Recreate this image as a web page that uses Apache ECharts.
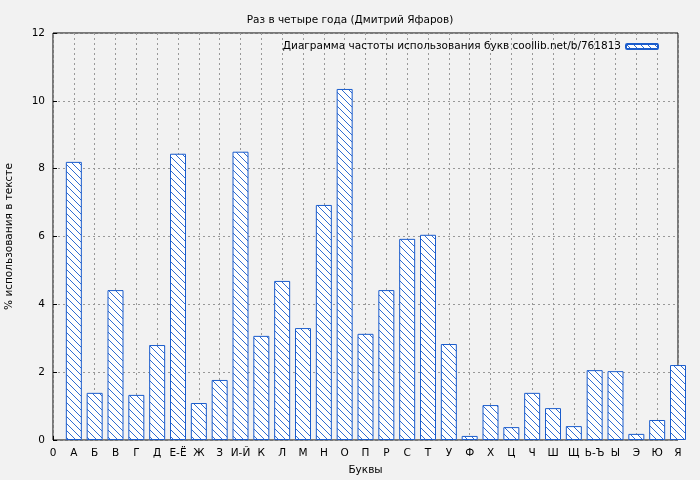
<!DOCTYPE html>
<html><head><meta charset="utf-8">
<script src="https://cdn.jsdelivr.net/npm/echarts@6/dist/echarts.min.js"></script>
<style>html,body{margin:0;background:#f2f2f2}#c{width:700px;height:480px}</style>
</head><body><div id="c"></div>
<script>
const labels = ['0','А','Б','В','Г','Д','Е-Ё','Ж','З','И-Й','К','Л','М','Н','О','П','Р','С','Т','У','Ф','Х','Ц','Ч','Ш','Щ','Ь-Ъ','Ы','Э','Ю','Я'];
const values = [8.2,1.39,4.42,1.33,2.8,8.44,1.09,1.77,8.5,3.07,4.69,3.3,6.93,10.35,3.13,4.42,5.93,6.05,2.83,0.12,1.03,0.38,1.39,0.94,0.41,2.06,2.03,0.18,0.59,2.21];

const pat = document.createElement('canvas');
pat.width = 7; pat.height = 7;
const g = pat.getContext('2d');
g.fillStyle = '#ffffff'; g.fillRect(0,0,7,7);
g.strokeStyle = '#1a5ccc'; g.lineWidth = 0.9;
g.beginPath();
g.moveTo(-1,-1); g.lineTo(8,8);
g.moveTo(-1,6); g.lineTo(1,8);
g.moveTo(6,-1); g.lineTo(8,1);
g.stroke();

const chart = echarts.init(document.getElementById('c'));
const font = 'DejaVu Sans';
chart.setOption({
  backgroundColor: '#f2f2f2',
  animation: false,
  title: { text: 'Раз в четыре года (Дмитрий Яфаров)', left: 'center', top: 10,
    textStyle: { fontSize: 10.5, fontWeight: 'normal', color: '#000', fontFamily: font } },
  legend: { right: 36, top: 36, align: 'right', itemWidth: 32, itemHeight: 5, itemGap: 0,
    textStyle: { fontSize: 10.5, color: '#000', fontFamily: font },
    data: ['Диаграмма частоты использования букв coollib.net/b/761813'] },
  grid: { left: 53, right: 22, top: 33, bottom: 40, containLabel: false, outerBoundsMode: 'none',
    show: true, borderColor: '#000', borderWidth: 1, backgroundColor: '#f2f2f2' },
  xAxis: { type: 'value', min: 0, max: 30, interval: 1,
    name: 'Буквы', nameLocation: 'middle', nameGap: 25,
    nameTextStyle: { fontSize: 10.5, color: '#000', fontFamily: font },
    axisLine: { show: false },
    axisTick: { inside: true, length: 4, lineStyle: { color: '#000' } },
    axisLabel: { fontSize: 10.5, color: '#000', fontFamily: font, formatter: v => labels[v] },
    splitLine: { show: true, lineStyle: { type: [2,3], color: '#999' } } },
  yAxis: { type: 'value', min: 0, max: 12, interval: 2,
    name: '% использования в тексте', nameLocation: 'middle', nameGap: 38,
    nameTextStyle: { fontSize: 10.5, color: '#000', fontFamily: font },
    axisLine: { show: false },
    axisTick: { inside: true, length: 4, lineStyle: { color: '#000' } },
    axisLabel: { fontSize: 10.5, color: '#000', fontFamily: font },
    splitLine: { show: true, lineStyle: { type: [2,3], color: '#999' } } },
  series: [{
    name: 'Диаграмма частоты использования букв coollib.net/b/761813',
    type: 'bar', barWidth: 16, clip: true,
    data: values.map((v, i) => [i + 1, v]),
    itemStyle: { color: { image: pat, repeat: 'repeat' }, borderColor: '#1a5ccc', borderWidth: 1 }
  }]
});
</script></body></html>
